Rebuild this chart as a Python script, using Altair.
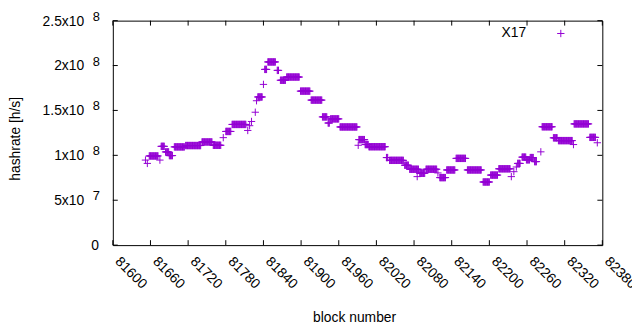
import altair as alt
import pandas as pd

FONT = "Liberation Sans"
PURPLE = "#9400D3"
PLUS = "M-1,0L1,0M0,-1L0,1"

series_names = ["X17"]

# hashrate segments (block start, block end, hashrate in 1e6 h/s)
seg_start = [81652, 81655, 81658, 81675, 81677, 81684, 81690, 81698, 81716, 81742,
             81760, 81776, 81780, 81790, 81815, 81818, 81821, 81827, 81829, 81831,
             81840, 81842, 81847, 81862, 81867, 81877, 81899, 81916, 81934, 81943,
             81947, 81962, 81991, 81992, 82002, 82008, 82036, 82041, 82065, 82073,
             82085, 82089, 82099, 82118, 82121, 82132, 82147, 82165, 82190, 82202,
             82215, 82235, 82239, 82243, 82245, 82252, 82259, 82265, 82272, 82282,
             82284, 82302, 82310, 82334, 82335, 82360, 82372]
seg_end = [81652, 81655, 81672, 81675, 81682, 81689, 81695, 81714, 81740, 81758,
           81772, 81776, 81788, 81812, 81815, 81818, 81821, 81827, 81829, 81838,
           81840, 81845, 81859, 81864, 81875, 81897, 81914, 81933, 81941, 81945,
           81960, 81989, 81991, 82001, 82007, 82034, 82038, 82063, 82071, 82087,
           82085, 82097, 82116, 82118, 82130, 82145, 82162, 82187, 82200, 82213,
           82233, 82235, 82239, 82243, 82249, 82258, 82264, 82270, 82275, 82282,
           82300, 82308, 82332, 82334, 82358, 82369, 82372]
seg_value = [94.7, 91, 99.3, 94.7, 110, 103.8, 99.7, 109.4, 110.9, 114.9,
             111.2, 119.7, 126.6, 134.4, 127.7, 133, 137.7, 148, 160.8, 165,
             179, 195.7, 204, 194.6, 183.6, 187.2, 171.5, 161.5, 142.8, 136,
             140.6, 131.6, 111.2, 117.5, 112, 109.6, 97.5, 94.4, 89, 84.5,
             76.3, 80, 84.5, 80.4, 75.2, 83.7, 96.6, 83.7, 70.3, 78,
             85, 76.3, 81.8, 87, 91, 98, 95, 97.5, 93, 103.9,
             131.8, 119.5, 116.4, 112, 135, 120, 114]

x_ticks = [81600, 81660, 81720, 81780, 81840, 81900, 81960, 82020, 82080,
           82140, 82200, 82260, 82320, 82380]
y_ticks = [0, 5e7, 1e8, 1.5e8, 2e8, 2.5e8]
y_tick_base = ["0", "5x10", "1x10", "1.5x10", "2x10", "2.5x10"]
y_tick_exp = ["", "7", "8", "8", "8", "8"]

W, H = 495, 227

rows = []
for s, e, v in zip(seg_start, seg_end, seg_value):
    for b in range(s, e + 1):
        rows.append({"block": b, "hashrate": v * 1e6, "series": series_names[0]})
df = pd.DataFrame(rows)

xt = pd.DataFrame({"block": x_ticks})
yt = pd.DataFrame({"hashrate": y_ticks, "base": y_tick_base, "exp": y_tick_exp})

xscale = alt.Scale(domain=[81600, 82380], nice=False, zero=False)
yscale = alt.Scale(domain=[0, 2.5e8], nice=False)

xaxis = alt.Axis(
    values=x_ticks, format="d", labelAngle=45, labelAlign="left",
    labelBaseline="middle", labelPadding=14, labelOffset=4, ticks=False, domain=False,
    grid=False, labelFont=FONT, labelFontSize=14, labelColor="black",
    labelFlush=False, labelOverlap=False,
    title="block number", titleX=244, titleY=73, titleBaseline="middle",
    titleFont=FONT, titleFontSize=14, titleFontWeight="normal", titleColor="black")
yaxis = alt.Axis(
    labels=False, ticks=False, domain=False, grid=False,
    title="hashrate [h/s]", titleX=-98, titleY=119, titleAngle=270,
    titleAlign="center", titleBaseline="middle",
    titleFont=FONT, titleFontSize=14, titleFontWeight="normal", titleColor="black")

X = alt.X("block:Q", scale=xscale, axis=xaxis, title="block number")
Y = alt.Y("hashrate:Q", scale=yscale, axis=yaxis, title="hashrate [h/s]")

points = alt.Chart(df).mark_point(
    shape=PLUS, filled=False, color=PURPLE, size=55, strokeWidth=1, opacity=1
).encode(x=X, y=Y)

xtick_b = alt.Chart(xt).mark_rule(color="black", strokeWidth=1).encode(
    x=X, y=alt.value(H), y2=alt.value(H - 5))
xtick_t = alt.Chart(xt).mark_rule(color="black", strokeWidth=1).encode(
    x=X, y=alt.value(0), y2=alt.value(5))
ytick_l = alt.Chart(yt).mark_rule(color="black", strokeWidth=1).encode(
    y=Y, x=alt.value(0), x2=alt.value(5))
ytick_r = alt.Chart(yt).mark_rule(color="black", strokeWidth=1).encode(
    y=Y, x=alt.value(W), x2=alt.value(W - 5))

ylab_base = alt.Chart(yt).transform_filter("datum.exp != ''").mark_text(
    align="right", baseline="middle", font=FONT, fontSize=14, color="black", dy=1
).encode(y=Y, x=alt.value(-29), text="base:N")
ylab_exp = alt.Chart(yt).transform_filter("datum.exp != ''").mark_text(
    align="right", baseline="middle", font=FONT, fontSize=13, color="black", dy=-4
).encode(y=Y, x=alt.value(-13), text="exp:N")
ylab_zero = alt.Chart(yt).transform_filter("datum.exp == ''").mark_text(
    align="right", baseline="middle", font=FONT, fontSize=14, color="black", dy=1
).encode(y=Y, x=alt.value(-14), text="base:N")

leg = pd.DataFrame({"series": series_names})
leg_text = alt.Chart(leg).mark_text(
    align="right", baseline="middle", font=FONT, fontSize=14, color="black"
).encode(x=alt.value(418), y=alt.value(12.5), text="series:N")
leg_sym = alt.Chart(leg).mark_point(
    shape=PLUS, filled=False, color=PURPLE, size=55, strokeWidth=1, opacity=1
).encode(x=alt.value(453), y=alt.value(13))

chart = alt.layer(
    points, xtick_b, xtick_t, ytick_l, ytick_r,
    ylab_base, ylab_exp, ylab_zero, leg_text, leg_sym
).properties(
    width=W, height=H,
    autosize=alt.AutoSizeParams(type="none"),
    padding={"left": 106, "top": 11, "right": 30, "bottom": 80},
).configure_view(stroke="black", strokeWidth=1)

chart.save("out.html", embed_options={"renderer": "svg", "actions": False})
